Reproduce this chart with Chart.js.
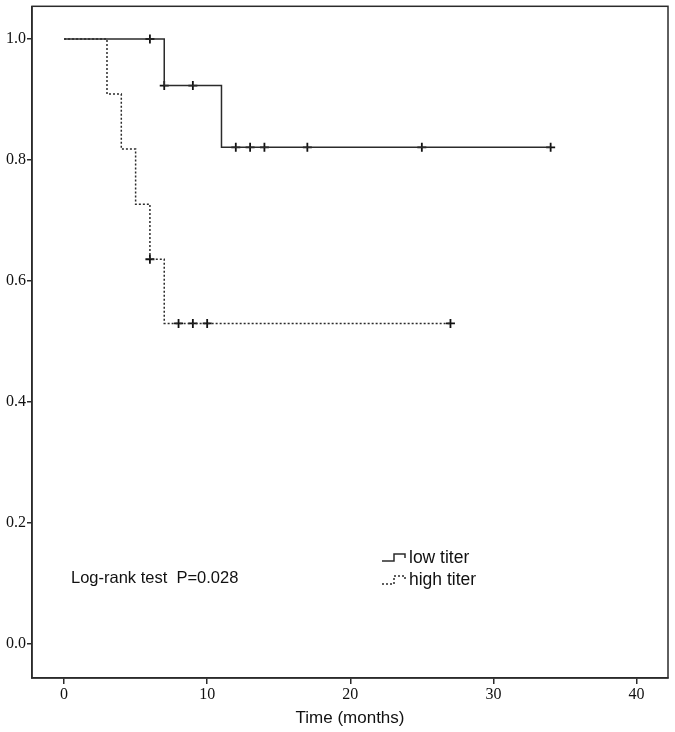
<!DOCTYPE html>
<html>
<head>
<meta charset="utf-8">
<script src="https://cdn.jsdelivr.net/npm/chart.js@4/dist/chart.umd.min.js"></script>
<style>
  html, body { margin: 0; padding: 0; background: #fff; }
  #wrap { width: 675px; height: 732px; }
</style>
</head>
<body>
<div id="wrap"><canvas id="myChart" width="675" height="732"></canvas></div>
<script>
// Kaplan-Meier steps (time in months, survival after the event)
const lowTimes = [0, 7, 11, 34];
const lowSurv = [1.0, 0.923, 0.821, 0.821];
const highTimes = [0, 3, 4, 5, 6, 7, 27];
const highSurv = [1.0, 0.909, 0.818, 0.727, 0.636, 0.530, 0.530];

// censored observations
const lowCensorTimes = [6, 7, 9, 12, 13, 14, 17, 25, 34];
const lowCensorSurv = [1.0, 0.923, 0.923, 0.821, 0.821, 0.821, 0.821, 0.821, 0.821];
const highCensorTimes = [6, 8, 9, 10, 27];
const highCensorSurv = [0.636, 0.530, 0.530, 0.530, 0.530];

const xTicks = [0, 10, 20, 30, 40];
const yTicks = [0, 0.2, 0.4, 0.6, 0.8, 1.0];
const seriesNames = ['low titer', 'high titer'];
const testText = 'Log-rank test  P=0.028';

const ink = '#2b2b2b';
const tickFont = { family: '"Liberation Serif", "Times New Roman", serif', size: 16 };

function pts(xs, ys) {
    return xs.map((x, i) => ({ x: x, y: ys[i] }));
}

// frame + in-plot text + legend
const extras = {
    id: 'extras',
    afterDraw(chart) {
        const ctx = chart.ctx;
        const a = chart.chartArea;
        ctx.save();
        ctx.strokeStyle = ink;
        ctx.lineWidth = 1.5;
        ctx.strokeRect(a.left, a.top, a.right - a.left, a.bottom - a.top);

        ctx.fillStyle = '#111';
        ctx.textBaseline = 'middle';
        ctx.font = '16.5px "Liberation Sans", Arial, sans-serif';
        ctx.fillText(testText, 71, 578);
        ctx.font = '17.5px "Liberation Sans", Arial, sans-serif';
        ctx.fillText(seriesNames[0], 409, 558);
        ctx.fillText(seriesNames[1], 409, 580);

        // legend symbols
        ctx.lineWidth = 1.5;
        ctx.beginPath();
        ctx.moveTo(382, 561); ctx.lineTo(394, 561); ctx.lineTo(394, 554);
        ctx.lineTo(405, 554); ctx.lineTo(405, 558);
        ctx.stroke();
        ctx.setLineDash([2, 2]);
        ctx.beginPath();
        ctx.moveTo(382, 584); ctx.lineTo(394, 584); ctx.lineTo(394, 576);
        ctx.lineTo(405, 576); ctx.lineTo(405, 581);
        ctx.stroke();
        ctx.restore();
    }
};

new Chart(document.getElementById('myChart').getContext('2d'), {
    type: 'scatter',
    data: {
        datasets: [
            {
                label: seriesNames[0],
                data: pts(lowTimes, lowSurv),
                showLine: true,
                stepped: true,
                borderColor: ink,
                borderWidth: 1.5,
                pointRadius: 0
            },
            {
                label: seriesNames[1],
                data: pts(highTimes, highSurv),
                showLine: true,
                stepped: true,
                borderColor: ink,
                borderWidth: 1.5,
                borderDash: [2, 2],
                pointRadius: 0
            },
            {
                label: 'low censored',
                data: pts(lowCensorTimes, lowCensorSurv),
                pointStyle: 'cross',
                pointRadius: 4.5,
                borderColor: '#111',
                borderWidth: 1.8
            },
            {
                label: 'high censored',
                data: pts(highCensorTimes, highCensorSurv),
                pointStyle: 'cross',
                pointRadius: 4.5,
                borderColor: '#111',
                borderWidth: 1.8
            }
        ]
    },
    options: {
        responsive: false,
        animation: false,
        layout: { padding: { top: 5, right: 7, left: 0, bottom: 0 } },
        plugins: {
            legend: { display: false },
            tooltip: { enabled: false }
        },
        scales: {
            x: {
                type: 'linear',
                min: -2.24,
                max: 42.2,
                afterBuildTicks: s => { s.ticks = xTicks.map(v => ({ value: v })); },
                afterFit: s => { s.height = 54; },
                border: { display: true, color: ink, width: 1.5 },
                grid: { drawOnChartArea: false, drawTicks: true, tickLength: 6, color: ink, lineWidth: 1.5 },
                ticks: { color: '#111', font: tickFont, padding: 1, maxRotation: 0, callback: v => String(v) },
                title: {
                    display: true,
                    text: 'Time (months)',
                    color: '#111',
                    font: { family: '"Liberation Sans", Arial, sans-serif', size: 17 },
                    padding: { top: 0, bottom: 3 }
                }
            },
            y: {
                type: 'linear',
                min: -0.056,
                max: 1.054,
                afterBuildTicks: s => { s.ticks = yTicks.map(v => ({ value: v })); },
                afterFit: s => { s.width = 32; s.paddingTop = 0; s.paddingBottom = 0; },
                border: { display: true, color: ink, width: 1.5 },
                grid: { drawOnChartArea: false, drawTicks: true, tickLength: 5, color: ink, lineWidth: 1.5 },
                ticks: { color: '#111', font: tickFont, padding: 1, callback: v => v.toFixed(1) }
            }
        }
    },
    plugins: [extras]
});
</script>
</body>
</html>
